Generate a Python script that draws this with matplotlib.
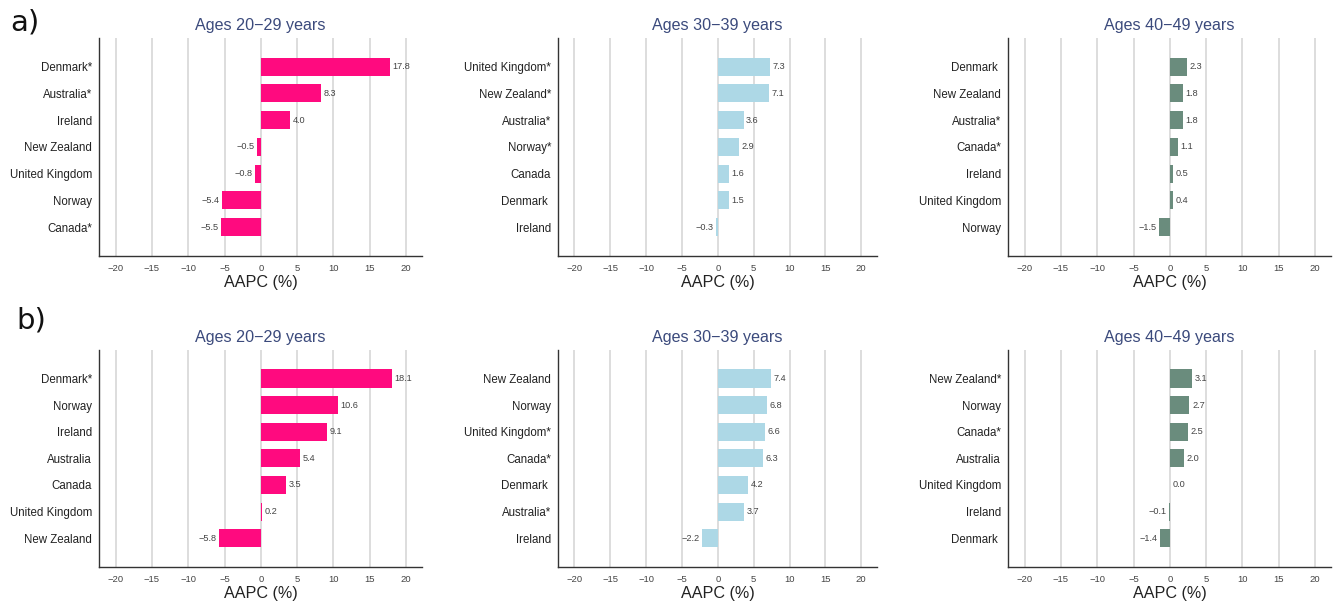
import matplotlib
matplotlib.use("Agg")
import matplotlib.pyplot as plt

plt.rcParams['font.family'] = ['Liberation Sans', 'DejaVu Sans']

age_groups = ["Ages 20\u221229 years", "Ages 30\u221239 years", "Ages 40\u221249 years"]
bar_colors = ["#FF0A7F", "#ADD8E6", "#6A8C7D"]

# Panel a
a_20_countries = ["Denmark*", "Australia*", "Ireland", "New Zealand", "United Kingdom", "Norway", "Canada*"]
a_20_values = [17.8, 8.3, 4.0, -0.5, -0.8, -5.4, -5.5]
a_30_countries = ["United Kingdom*", "New Zealand*", "Australia*", "Norway*", "Canada", "Denmark ", "Ireland"]
a_30_values = [7.3, 7.1, 3.6, 2.9, 1.6, 1.5, -0.3]
a_40_countries = ["Denmark ", "New Zealand", "Australia*", "Canada*", "Ireland", "United Kingdom", "Norway"]
a_40_values = [2.3, 1.8, 1.8, 1.1, 0.5, 0.4, -1.5]

# Panel b
b_20_countries = ["Denmark*", "Norway", "Ireland", "Australia", "Canada", "United Kingdom", "New Zealand"]
b_20_values = [18.1, 10.6, 9.1, 5.4, 3.5, 0.2, -5.8]
b_30_countries = ["New Zealand", "Norway", "United Kingdom*", "Canada*", "Denmark ", "Australia*", "Ireland"]
b_30_values = [7.4, 6.8, 6.6, 6.3, 4.2, 3.7, -2.2]
b_40_countries = ["New Zealand*", "Norway", "Canada*", "Australia", "United Kingdom", "Ireland", "Denmark "]
b_40_values = [3.1, 2.7, 2.5, 2.0, 0.0, -0.1, -1.4]

x_ticks = [-20, -15, -10, -5, 0, 5, 10, 15, 20]

rows = [
    [(a_20_countries, a_20_values), (a_30_countries, a_30_values), (a_40_countries, a_40_values)],
    [(b_20_countries, b_20_values), (b_30_countries, b_30_values), (b_40_countries, b_40_values)],
]

W, H = 1340, 607
fig = plt.figure(figsize=(W / 100, H / 100), dpi=100)

col_px = [(99, 422), (558, 877), (1008, 1331)]
row_px = [(38, 256), (350, 567)]


def fmt(v):
    return f"{v:.1f}".replace("-", "\u2212")


for r, row in enumerate(rows):
    top, bot = row_px[r]
    for c, (countries, values) in enumerate(row):
        left, right = col_px[c]
        ax = fig.add_axes([left / W, 1 - bot / H, (right - left) / W, (bot - top) / H])
        ypos = list(range(len(countries)))
        ax.barh(ypos, values, height=0.68, color=bar_colors[c], zorder=3)
        for y, v in zip(ypos, values):
            if v >= 0:
                ax.text(v + 0.35, y, fmt(v), ha="left", va="center", fontsize=6.6, color="#444444", zorder=4)
            else:
                ax.text(v - 0.35, y, fmt(v), ha="right", va="center", fontsize=6.6, color="#444444", zorder=4)
        ax.set_yticks(ypos)
        ax.set_yticklabels(countries, fontsize=8.3, color="#222222")
        ax.set_ylim(7.08, -1.07)
        ax.set_xlim(-22.3, 22.2)
        ax.set_xticks(x_ticks)
        ax.set_xticklabels([str(t).replace("-", "\u2212") for t in x_ticks], fontsize=6.8, color="#444444")
        ax.tick_params(axis="both", length=0)
        ax.tick_params(axis="x", pad=6)
        ax.tick_params(axis="y", pad=5)
        ax.grid(axis="x", color="#d3d3d3", linewidth=1.1, zorder=0)
        ax.set_axisbelow(True)
        for s in ["top", "right"]:
            ax.spines[s].set_visible(False)
        for s in ["left", "bottom"]:
            ax.spines[s].set_color("#333333")
            ax.spines[s].set_linewidth(1.0)
        ax.set_xlabel("AAPC (%)", fontsize=11.6, color="#222222", labelpad=1)
        ax.set_title(age_groups[c], fontsize=11.6, color="#3B4A7C", pad=6)

fig.text(10 / W, 1 - 23 / H, "a)", fontsize=21, family="DejaVu Sans", va="center", ha="left", color="#111111")
fig.text(16 / W, 1 - 321 / H, "b)", fontsize=21, family="DejaVu Sans", va="center", ha="left", color="#111111")

fig.savefig("out.png", dpi=100, facecolor="white")
